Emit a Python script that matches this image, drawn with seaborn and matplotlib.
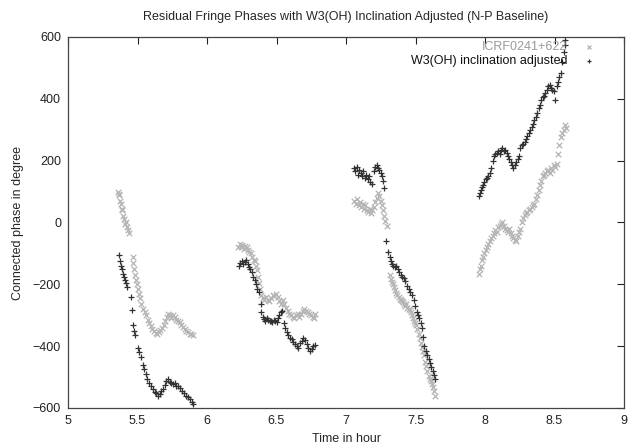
import numpy as np
import pandas as pd
import matplotlib
matplotlib.use("Agg")
import matplotlib.pyplot as plt
import seaborn as sns

# ---------------- data ----------------
icrf_t = [5.360, 5.365, 5.370, 5.375, 5.380, 5.385, 5.390, 5.398, 5.405, 5.412, 5.420, 5.428, 5.435, 5.442,
          5.465, 5.470, 5.474, 5.480, 5.487, 5.494, 5.500, 5.510, 5.518, 5.526, 5.540, 5.552, 5.562, 5.572,
          5.582, 5.594, 5.606, 5.618, 5.630, 5.642, 5.652, 5.664, 5.676, 5.688, 5.700, 5.712, 5.722, 5.732,
          5.744, 5.756, 5.768, 5.780, 5.792, 5.804, 5.816, 5.828, 5.840, 5.852, 5.864, 5.876, 5.888, 5.900,
          6.225, 6.235, 6.245, 6.255, 6.265, 6.275, 6.285, 6.295, 6.305, 6.315, 6.325, 6.335, 6.345, 6.352,
          6.358, 6.365, 6.372, 6.380, 6.390, 6.400, 6.412, 6.424, 6.436, 6.448, 6.460, 6.472, 6.484, 6.496,
          6.508, 6.520, 6.532, 6.544, 6.556, 6.568, 6.580, 6.592, 6.604, 6.616, 6.628, 6.640, 6.652, 6.664,
          6.676, 6.688, 6.700, 6.712, 6.724, 6.736, 6.748, 6.760, 6.772, 6.780,
          7.060, 7.070, 7.080, 7.090, 7.100, 7.110, 7.120, 7.130, 7.140, 7.150, 7.160, 7.170, 7.180, 7.190,
          7.200, 7.210, 7.220, 7.230, 7.240, 7.250, 7.260, 7.268, 7.276, 7.284, 7.292,
          7.315, 7.322, 7.330, 7.338, 7.346, 7.354, 7.362, 7.370, 7.378, 7.386, 7.394, 7.402, 7.410, 7.418,
          7.426, 7.434, 7.442, 7.450, 7.458, 7.466, 7.474, 7.482, 7.490, 7.498, 7.506, 7.514, 7.522, 7.530,
          7.538, 7.546, 7.554, 7.562, 7.570, 7.578, 7.586, 7.594, 7.602, 7.610, 7.618, 7.626, 7.634, 7.642,
          7.960, 7.966, 7.972, 7.980, 7.988, 7.996, 8.005, 8.015, 8.025, 8.035, 8.045, 8.055, 8.065, 8.075,
          8.085, 8.095, 8.105, 8.115, 8.125, 8.135, 8.145, 8.155, 8.165, 8.175, 8.185, 8.195, 8.205, 8.215,
          8.225, 8.235, 8.245, 8.255, 8.265, 8.275, 8.285, 8.295, 8.305, 8.315, 8.325, 8.335, 8.345, 8.355,
          8.365, 8.375, 8.385, 8.395, 8.405, 8.415, 8.425, 8.435, 8.445, 8.455, 8.465, 8.475, 8.485, 8.495,
          8.505, 8.515, 8.525, 8.535, 8.545, 8.555, 8.565, 8.575, 8.585]
icrf_v = [98, 88, 92, 70, 60, 45, 40, 20, 10, -5, 0, -15, -25, -35,
          -110, -130, -150, -170, -185, -200, -215, -230, -245, -262, -280, -290, -300, -315,
          -325, -335, -345, -352, -358, -362, -355, -348, -340, -330, -320, -305, -295, -300,
          -310, -300, -305, -315, -318, -322, -330, -338, -345, -350, -355, -360, -362, -365,
          -80, -70, -78, -72, -85, -75, -80, -90, -95, -100, -110, -120, -125, -140,
          -155, -175, -195, -215, -235, -245, -250, -240, -250, -255, -245, -235, -238, -230,
          -240, -255, -262, -250, -265, -275, -285, -295, -300, -305, -310, -300, -295, -305,
          -295, -285, -280, -285, -290, -295, -300, -305, -310, -295,
          70, 60, 75, 55, 65, 50, 60, 45, 55, 40, 35, 45, 30, 40,
          50, 65, 80, 95, 85, 70, 55, 40, 20, 5, -10,
          -170, -182, -192, -200, -210, -218, -228, -235, -242, -248, -252, -255, -258, -265,
          -270, -262, -275, -280, -283, -290, -300, -310, -318, -325, -332, -345, -360, -375,
          -390, -402, -415, -430, -450, -465, -480, -495, -505, -512, -522, -532, -545, -560,
          -165, -150, -140, -120, -110, -100, -90, -80, -70, -60, -50, -45, -35, -25,
          -30, -15, -10, -5, 0, -10, -20, -25, -30, -20, -35, -45, -50, -55,
          -60, -45, -30, -20, 0, 15, 25, 30, 35, 40, 45, 50, 55, 60,
          75, 90, 105, 120, 135, 150, 155, 160, 165, 170, 160, 175, 170, 185,
          180, 190, 220, 250, 275, 290, 300, 315, 305]

w3_t = [5.368, 5.375, 5.382, 5.390, 5.396, 5.404, 5.412, 5.420, 5.426, 5.450, 5.458, 5.468, 5.476, 5.484,
        5.500, 5.510, 5.522, 5.536, 5.548, 5.560, 5.570, 5.582, 5.596, 5.610, 5.624, 5.636, 5.648, 5.660,
        5.672, 5.684, 5.696, 5.708, 5.720, 5.732, 5.744, 5.756, 5.768, 5.780, 5.792, 5.806, 5.820, 5.834,
        5.848, 5.862, 5.876, 5.890, 5.900,
        6.230, 6.240, 6.250, 6.260, 6.270, 6.282, 6.292, 6.302, 6.312, 6.322, 6.332, 6.342, 6.352, 6.362,
        6.372, 6.385, 6.392, 6.400, 6.410, 6.420, 6.430, 6.440, 6.450, 6.460, 6.470, 6.480, 6.490, 6.500,
        6.510, 6.520, 6.530, 6.540, 6.552, 6.562, 6.574, 6.586, 6.598, 6.610, 6.622, 6.634, 6.646, 6.658,
        6.670, 6.682, 6.694, 6.706, 6.718, 6.730, 6.742, 6.754, 6.766, 6.778,
        7.060, 7.068, 7.076, 7.085, 7.095, 7.105, 7.115, 7.125, 7.135, 7.145, 7.155, 7.165, 7.175, 7.185,
        7.200, 7.210, 7.220, 7.230, 7.240, 7.250, 7.258, 7.266, 7.275, 7.290, 7.305, 7.315, 7.322, 7.330,
        7.340, 7.350, 7.360, 7.372, 7.384, 7.396, 7.406, 7.416, 7.426, 7.440, 7.452, 7.464, 7.476, 7.488,
        7.498, 7.508, 7.518, 7.528, 7.538, 7.548, 7.556, 7.564, 7.574, 7.584, 7.594, 7.604, 7.614, 7.624,
        7.632, 7.640,
        7.960, 7.966, 7.972, 7.980, 7.988, 7.996, 8.005, 8.015, 8.025, 8.035, 8.045, 8.055, 8.065, 8.075,
        8.085, 8.095, 8.105, 8.115, 8.125, 8.135, 8.145, 8.155, 8.165, 8.175, 8.185, 8.195, 8.205, 8.215,
        8.225, 8.235, 8.245, 8.255, 8.265, 8.275, 8.285, 8.295, 8.305, 8.315, 8.325, 8.335, 8.345, 8.355,
        8.365, 8.375, 8.385, 8.395, 8.405, 8.415, 8.425, 8.435, 8.445, 8.455, 8.465, 8.475, 8.485, 8.495,
        8.505, 8.515, 8.525, 8.535, 8.545, 8.555, 8.565, 8.572, 8.578]
w3_v = [-105, -125, -140, -150, -165, -175, -185, -195, -210, -240, -283, -330, -350, -365,
        -405, -418, -435, -460, -475, -490, -505, -520, -530, -540, -548, -552, -560, -555,
        -545, -540, -525, -512, -505, -515, -520, -522, -518, -528, -530, -535, -545, -552,
        -560, -565, -572, -580, -588,
        -140, -130, -125, -135, -128, -120, -135, -145, -150, -160, -175, -185, -200, -215,
        -225, -265, -290, -305, -312, -318, -310, -315, -320, -318, -322, -315, -318, -322,
        -310, -300, -290, -285, -325, -340, -355, -365, -372, -378, -385, -392, -400, -405,
        -390, -382, -375, -380, -392, -405, -415, -408, -400, -395,
        175, 165, 180, 155, 170, 160, 150, 165, 145, 155, 140, 150, 130, 125,
        165, 180, 185, 175, 170, 160, 150, 135, 110, -60, -95, -110, -125, -135,
        -140, -145, -140, -150, -160, -170, -175, -180, -190, -205, -215, -225, -235, -250,
        -270, -290, -300, -310, -325, -340, -370, -400, -415, -428, -440, -455, -468, -480,
        -492, -505,
        85, 95, 105, 115, 120, 130, 140, 145, 150, 160, 175, 200, 215, 220,
        225, 230, 220, 235, 240, 230, 235, 225, 215, 205, 195, 185, 175, 185,
        195, 205, 215, 240, 250, 255, 260, 270, 280, 290, 300, 310, 320, 330,
        340, 355, 370, 380, 395, 405, 410, 420, 430, 440, 445, 435, 430, 425,
        395, 440, 455, 470, 485, 520, 550, 575, 590]

series_names = ["ICRF0241+622", "W3(OH) inclination adjusted"]
title = "Residual Fringe Phases with W3(OH) Inclination Adjusted (N-P Baseline)"
x_ticks = [5, 5.5, 6, 6.5, 7, 7.5, 8, 8.5, 9]
x_tick_labels = ["5", "5.5", "6", "6.5", "7", "7.5", "8", "8.5", "9"]
y_ticks = [-600, -400, -200, 0, 200, 400, 600]

# ---------------- plotting ----------------
sns.set_theme(style="white")
plt.rcParams["font.family"] = ["Liberation Sans", "DejaVu Sans"]

df = pd.concat([
    pd.DataFrame({"t": icrf_t, "v": icrf_v, "series": series_names[0]}),
    pd.DataFrame({"t": w3_t, "v": w3_v, "series": series_names[1]}),
], ignore_index=True)

fig = plt.figure(figsize=(6.34, 4.43), dpi=100)
ax = fig.add_axes([68 / 634, 1 - 408 / 443, (624 - 68) / 634, (408 - 37) / 443])

colors = {series_names[0]: "#b4b4b4", series_names[1]: "#333333"}
for name, mk in [(series_names[0], "x"), (series_names[1], "+")]:
    sub = df[df["series"] == name]
    sns.scatterplot(data=sub, x="t", y="v", ax=ax, marker=mk, color=colors[name],
                    s=16, linewidth=0.9, label=name, zorder=3)

ax.set_xlim(5, 9)
ax.set_ylim(-600, 600)
ax.set_xticks(x_ticks)
ax.set_xticklabels(x_tick_labels)
ax.set_yticks(y_ticks)
ax.tick_params(direction="in", length=5, width=0.8, top=True, right=True,
               labelsize=9, colors="#222222", pad=5)
for sp in ax.spines.values():
    sp.set_color("#444444")
    sp.set_linewidth(0.9)

ax.set_xlabel("Time in hour", fontsize=9, labelpad=4)
ax.set_ylabel("Connected phase in degree", fontsize=9, labelpad=6)
fig.text(346 / 634, 1 - 17 / 443, title, ha="center", va="center", fontsize=9)

leg = ax.legend(loc="upper right", bbox_to_anchor=(600 / 634, 1 - 36 / 443),
                bbox_transform=fig.transFigure, markerfirst=False, frameon=False,
                fontsize=9, handletextpad=1.2, borderaxespad=0, labelspacing=0.15,
                handlelength=1.0, markerscale=0.7)
leg.get_texts()[0].set_color("#9a9a9a")
leg.get_texts()[1].set_color("#111111")
for t in leg.get_texts():
    t.set_ha("right")

fig.savefig("out.png", dpi=100)
